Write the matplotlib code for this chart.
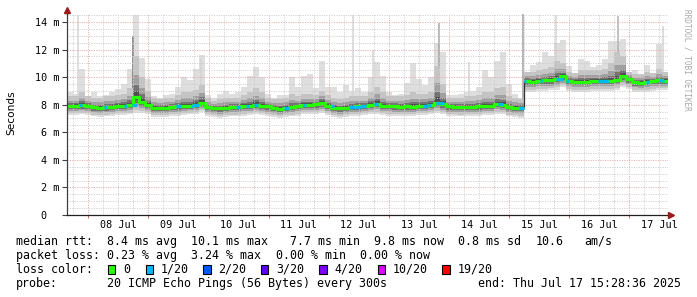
import numpy as np
import matplotlib
matplotlib.use("Agg")
import matplotlib.pyplot as plt
from matplotlib.patches import Rectangle
from datetime import datetime, timedelta

W, H = 697, 297
plt.rcParams['font.family'] = ['DejaVu Sans Mono']

# ---------------- data ----------------
end_time = datetime(2025, 7, 17, 15, 28, 36)
span_hours = 240
bin_hours = 2.4

rtt_median = [
    7.90, 7.92, 7.95, 7.88, 7.80, 7.76, 7.80, 7.86, 7.90, 7.92,
    7.96, 8.55, 8.20, 8.00, 7.78, 7.76, 7.78, 7.84, 7.88, 7.90,
    7.94, 8.00, 8.15, 7.80, 7.74, 7.74, 7.76, 7.82, 7.84, 7.90,
    7.92, 8.00, 7.90, 7.88, 7.75, 7.72, 7.76, 7.82, 7.90, 7.98,
    7.98, 8.02, 8.12, 7.92, 7.78, 7.74, 7.78, 7.86, 7.88, 7.90,
    7.98, 8.06, 7.94, 7.90, 7.88, 7.86, 7.88, 7.86, 7.90, 7.94,
    7.98, 8.15, 8.02, 7.88, 7.86, 7.84, 7.86, 7.86, 7.88, 7.92,
    7.94, 8.05, 7.98, 7.82, 7.78, 7.76, 9.70, 9.68, 9.72, 9.76,
    9.80, 9.90, 10.05, 9.72, 9.68, 9.66, 9.68, 9.72, 9.72, 9.74,
    9.72, 9.80, 10.05, 9.85, 9.62, 9.60, 9.66, 9.72, 9.76, 9.74,
]
rtt_min = [
    7.25, 7.25, 7.30, 7.25, 7.15, 7.10, 7.15, 7.20, 7.25, 7.25,
    7.30, 7.40, 7.40, 7.30, 7.10, 7.10, 7.10, 7.20, 7.20, 7.25,
    7.30, 7.35, 7.45, 7.20, 7.10, 7.05, 7.10, 7.15, 7.15, 7.20,
    7.25, 7.30, 7.25, 7.20, 7.10, 7.05, 7.10, 7.15, 7.20, 7.30,
    7.30, 7.35, 7.40, 7.25, 7.10, 7.05, 7.10, 7.20, 7.20, 7.25,
    7.30, 7.35, 7.25, 7.20, 7.20, 7.20, 7.20, 7.20, 7.25, 7.25,
    7.30, 7.40, 7.30, 7.20, 7.20, 7.15, 7.20, 7.20, 7.20, 7.25,
    7.25, 7.35, 7.30, 7.15, 7.10, 7.05, 8.95, 8.95, 9.00, 9.00,
    9.05, 9.10, 9.25, 9.00, 8.95, 8.95, 8.95, 9.00, 9.00, 9.00,
    9.00, 9.10, 9.30, 9.15, 8.95, 8.90, 8.95, 9.00, 9.05, 9.05,
]
rtt_p90 = [
    8.6, 8.6, 8.9, 8.6, 8.5, 8.5, 8.6, 8.6, 8.7, 8.8,
    9.2, 11.5, 10.0, 9.0, 8.5, 8.4, 8.5, 8.5, 8.7, 8.9,
    8.9, 9.1, 9.4, 8.5, 8.3, 8.4, 8.5, 8.5, 8.5, 8.7,
    8.9, 9.2, 8.9, 8.5, 8.4, 8.4, 8.5, 8.8, 8.6, 8.8,
    8.8, 8.7, 9.0, 8.7, 8.5, 8.4, 8.5, 8.6, 8.6, 8.6,
    8.9, 9.3, 8.9, 8.6, 8.6, 8.6, 8.7, 8.9, 8.8, 8.8,
    8.9, 10.8, 9.5, 8.5, 8.5, 8.5, 8.6, 8.6, 8.7, 8.9,
    8.9, 9.2, 9.3, 8.6, 8.5, 8.4, 10.4, 10.4, 10.5, 10.6,
    10.7, 11.2, 11.0, 10.4, 10.3, 10.5, 10.5, 10.5, 10.5, 10.6,
    11.0, 11.8, 11.5, 10.4, 10.2, 10.2, 10.4, 10.3, 10.6, 10.4,
]
rtt_max = [
    8.95, 8.8, 10.6, 8.6, 8.9, 8.6, 8.7, 8.9, 9.15, 9.5,
    10.6, 14.5, 11.4, 9.9, 8.6, 8.5, 8.7, 8.8, 9.3, 10.0,
    9.8, 10.6, 11.6, 8.7, 8.45, 8.8, 9.0, 8.8, 8.9, 9.3,
    10.1, 10.75, 10.0, 8.8, 8.45, 8.7, 8.7, 10.0, 9.3, 10.1,
    10.2, 9.2, 11.2, 9.3, 9.3, 8.95, 9.4, 9.0, 9.2, 8.9,
    10.0, 11.1, 10.1, 8.95, 8.7, 8.8, 9.6, 11.0, 9.9, 9.4,
    10.0, 12.5, 11.8, 8.7, 8.7, 8.8, 8.95, 9.0, 9.3, 10.5,
    10.0, 11.2, 11.8, 9.5, 8.8, 8.45, 10.3, 10.9, 11.1, 11.8,
    11.5, 12.5, 12.7, 10.8, 10.1, 11.35, 11.2, 10.75, 10.85, 11.35,
    12.6, 12.6, 12.8, 10.4, 10.5, 10.0, 10.85, 10.3, 12.4, 10.0,
]
# isolated single-ping outliers (hours from start, top in ms, shade)
spike_hours = [4.4, 26.4, 53.5, 114.4, 122.2, 148.6, 160.7, 181.9, 195.1, 220.2, 238.2]
spike_top = [14.5, 13.0, 11.3, 14.5, 12.0, 13.9, 11.1, 14.6, 14.5, 14.4, 13.7]
spike_shade = ['#d4d4d4', '#6e6e6e', '#d4d4d4', '#d4d4d4', '#d4d4d4', '#a8a8a8',
               '#d4d4d4', '#a0a0a0', '#d4d4d4', '#b0b0b0', '#d4d4d4']
# periods with 1/20 packet loss (hours from start)
loss_periods = [
    (4.8, 6.0), (14.8, 16.0), (22.8, 24.0), (26.0, 28.0), (43.5, 45.5),
    (49.5, 52.7), (67.5, 69.1), (71.5, 72.7), (74.7, 76.3), (86.6, 88.6),
    (94.2, 95.4), (105.4, 106.6), (112.6, 119.4), (122.6, 124.2), (142.2, 145.4),
    (147.4, 150.5), (172.1, 174.1), (180.5, 183.3), (188.9, 190.1), (195.3, 198.1),
    (199.3, 200.5), (212.0, 216.4), (231.2, 232.4), (236.4, 238.4),
]
y_ticks = [0, 2, 4, 6, 8, 10, 12, 14]
y_tick_labels = ['0  ', '2 m', '4 m', '6 m', '8 m', '10 m', '12 m', '14 m']
day_labels = ['08 Jul', '09 Jul', '10 Jul', '11 Jul', '12 Jul',
              '13 Jul', '14 Jul', '15 Jul', '16 Jul', '17 Jul']

loss_names = ['0', '1/20', '2/20', '3/20', '4/20', '10/20', '19/20']
loss_colors = ['#26ff00', '#00b8ff', '#0059ff', '#5e00ff', '#7e00ff', '#dd00ff', '#ff0000']

row_rtt = ['median rtt:', '8.4 ms avg', '10.1 ms max', '7.7 ms min',
           '9.8 ms now', '0.8 ms sd', '10.6', 'am/s']
row_rtt_cols = [0, 13, 25, 39, 51, 63, 74, 81]
row_loss = ['packet loss:', '0.23 % avg', '3.24 % max', '0.00 % min', '0.00 % now']
row_loss_cols = [0, 13, 25, 37, 49]
probe_text = '20 ICMP Echo Pings (56 Bytes) every 300s'
end_text = 'end: ' + end_time.strftime('%a %b %d %H:%M:%S %Y')

# ---------------- figure ----------------
fig = plt.figure(figsize=(W / 100, H / 100), dpi=100, facecolor='white')
ax_left, ax_right, ax_top, ax_bot = 67, 668, 13.7, 215
ax = fig.add_axes([ax_left / W, 1 - ax_bot / H, (ax_right - ax_left) / W, (ax_bot - ax_top) / H])
ax.set_xlim(0, span_hours)
ax.set_ylim(0, 14.6)
ax.set_facecolor('white')

start_time = end_time - timedelta(hours=span_hours)
def hours_of(dt):
    return (dt - start_time).total_seconds() / 3600.0

first_mid = datetime(2025, 7, 8)
midnights = [hours_of(first_mid + timedelta(days=k)) for k in range(10)]
noons = [m + 12 for m in midnights]
six_h = [hours_of(first_mid + timedelta(hours=6 * k)) for k in range(-1, 40)]
six_h = [h for h in six_h if 0 < h < span_hours and all(abs(h - m) > 0.1 for m in midnights)]

med = np.array(rtt_median)
lo = np.array(rtt_min)
p90 = np.array(rtt_p90)
mx = np.array(rtt_max)
n = len(med)
xe = np.arange(n + 1) * bin_hours
def ext(a):
    return np.append(a, a[-1])

# smoke layers (lightest outermost)
dlo = med - lo
dhi = p90 - med
layers = [
    (lo, mx, '#dedede'),
    (med - 0.8 * dlo, p90, '#c4c4c4'),
    (med - 0.55 * dlo, med + 0.55 * dhi, '#a0a0a0'),
    (med - 0.35 * dlo, med + 0.3 * dhi, '#747474'),
    (med - 0.18 * dlo, med + 0.15 * dhi, '#4e4e4e'),
]
for i, (a, b, c) in enumerate(layers):
    ax.fill_between(xe, ext(a), ext(b), step='post', color=c, lw=0, zorder=1 + i * 0.1)

for h, top, c in zip(spike_hours, spike_top, spike_shade):
    base = med[min(int(h // bin_hours), n - 1)]
    ax.vlines(h, base, top, color=c, lw=1.1, zorder=1.05)

# grid (dotted, on top of smoke)
dot = (0, (1, 1.4))
gl = 0.72
minor_c, major_c = '#cdcdcd', '#e2a8a8'
for h in six_h:
    ax.axvline(h, color=minor_c, lw=gl, ls=dot, zorder=3)
for h in midnights:
    ax.axvline(h, color=major_c, lw=gl, ls=dot, zorder=3)
for v in np.arange(0.5, 14.6, 0.5):
    if abs(v % 2) < 1e-9:
        ax.axhline(v, color=major_c, lw=gl, ls=dot, zorder=3)
    else:
        ax.axhline(v, color=minor_c, lw=gl, ls=dot, zorder=3)

# median line, split at large jumps
jumps = [i + 1 for i in range(n - 1) if abs(med[i + 1] - med[i]) > 1.0]
bounds = [0] + jumps + [n]
for s, e in zip(bounds[:-1], bounds[1:]):
    ax.step(xe[s:e + 1], ext(med[s:e]), where='post', color=loss_colors[0],
            lw=2.3, solid_capstyle='butt', zorder=5)
for j in jumps:
    ax.vlines(xe[j], med[j - 1], med[j], color='#303030', lw=0.9, zorder=4.5)

for a, b in loss_periods:
    inner = [x for x in xe if a < x < b]
    xs = [a] + inner + [b]
    for x0, x1 in zip(xs[:-1], xs[1:]):
        y = med[min(int(x0 // bin_hours), n - 1)]
        ax.hlines(y, x0, x1, color=loss_colors[1], lw=2.3, capstyle='butt', zorder=6)

# axes styling
for sp in ['top', 'right']:
    ax.spines[sp].set_visible(False)
ax.spines['left'].set_color('#404040')
ax.spines['bottom'].set_color('#202020')
ax.spines['left'].set_linewidth(0.9)
ax.spines['bottom'].set_linewidth(0.9)
ax.spines['left'].set_zorder(7)
ax.spines['bottom'].set_zorder(7)

ax.set_yticks(y_ticks)
ax.set_yticklabels(y_tick_labels)
ax.tick_params(axis='y', which='major', length=3.6, width=0.8, color='#404040',
               direction='out', pad=1.8, labelsize=7.3)

ax.set_xticks(midnights)
ax.set_xticklabels([''] * len(midnights))
ax.set_xticks(noons, minor=True)
ax.set_xticklabels(day_labels, minor=True)
ax.tick_params(axis='x', which='major', length=2.5, width=0.8, color='#c07070', direction='out')
ax.tick_params(axis='x', which='minor', length=0, pad=3.5, labelsize=7.3)

# arrows
ax.plot([0], [14.6 + 0.25], marker='^', ms=4.5, color='#9a1c1c', clip_on=False, zorder=8)
ax.plot([span_hours + 1.0], [0], marker='>', ms=4.5, color='#9a1c1c', clip_on=False, zorder=8)
ax.plot([0, 0], [14.6, 14.8], color='#404040', lw=0.9, clip_on=False, zorder=7)

# labels
fig.text(11 / W, 1 - 113 / H, 'Seconds', rotation=90, ha='center', va='center',
         fontsize=7.6, family=['DejaVu Sans'])
fig.text(687 / W, 1 - 60 / H, 'RRDTOOL / TOBI OETIKER', rotation=-90, ha='center',
         va='center', fontsize=5.6, color='#a8a8a8')

fs = 8.4
adv = 7.02
x0_legend = 16
def ftext(x, y, s, **kw):
    fig.text(x / W, 1 - y / H, s, ha='left', va='center', fontsize=fs, **kw)

for col, s in zip(row_rtt_cols, row_rtt):
    ftext(x0_legend + col * adv, 241.5, s)
for col, s in zip(row_loss_cols, row_loss):
    ftext(x0_legend + col * adv, 255.5, s)
ftext(16, 269.5, 'loss color:')
box_x = [108, 145.7, 203.3, 261, 319.3, 377.7, 442.3]
for x, name, c in zip(box_x, loss_names, loss_colors):
    fig.add_artist(Rectangle((x / W, 1 - 273.7 / H), 7.4 / W, 8.6 / H,
                             transform=fig.transFigure, fc=c, ec='black', lw=0.8))
    ftext(x + 15, 269.5, name)
ftext(16, 283.5, 'probe:')
ftext(x0_legend + 13 * adv, 283.5, probe_text)
ftext(478, 283.5, end_text)

fig.savefig('out.png', dpi=100, facecolor='white')
